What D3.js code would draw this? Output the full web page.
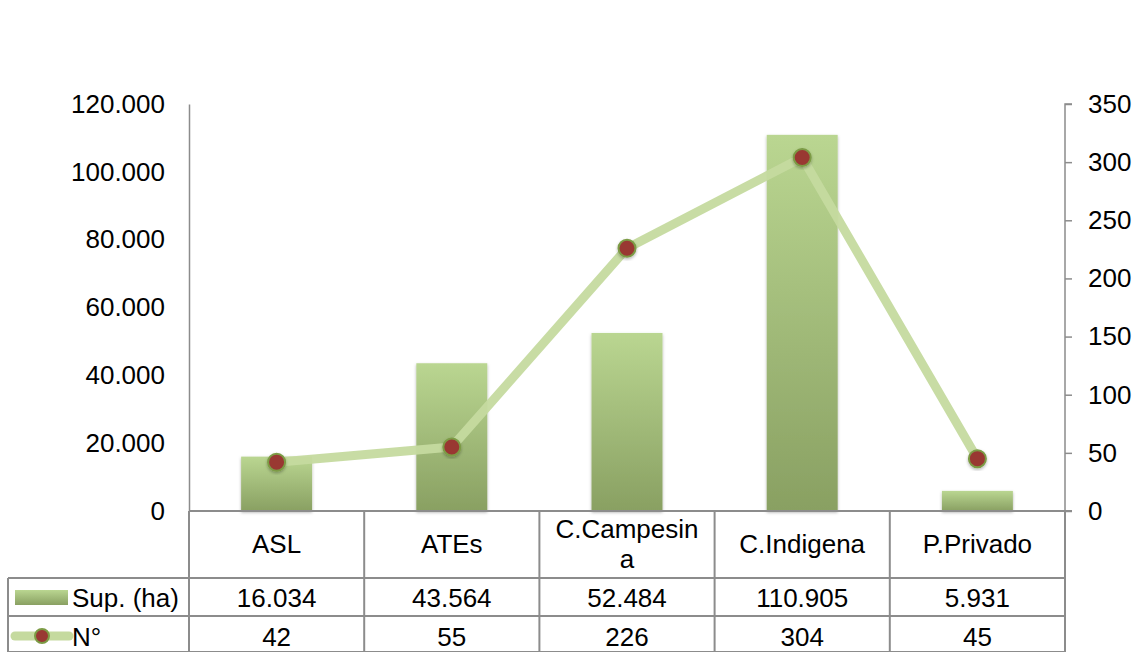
<!DOCTYPE html>
<html><head><meta charset="utf-8">
<script src="https://cdn.jsdelivr.net/npm/d3@7/dist/d3.min.js"></script>
<style>body{margin:0;background:#fff}svg{display:block}text{font-family:"Liberation Sans",Arial,sans-serif;fill:#000}</style>
</head><body><svg id="c" width="1136" height="652"></svg>
<script>
const categories = ["ASL","ATEs","C.Campesina","C.Indigena","P.Privado"];
const supValues = [16034,43564,52484,110905,5931];
const nValues = [42,55,226,304,45];
const supLabels = ["16.034","43.564","52.484","110.905","5.931"];
const nLabels = ["42","55","226","304","45"];
const leftTicks = [0,20000,40000,60000,80000,100000,120000];
const rightTicks = [0,50,100,150,200,250,300,350];
const seriesNames = ["Sup. (ha)","N°"];

const FS = "26px";
const svg = d3.select("#c");
const L=189, R=1065, T=104, B=511;
const x = d3.scaleBand().domain(categories).range([L,R]).paddingInner(0.595).paddingOuter(0.2975);
const yL = d3.scaleLinear().domain([0,120000]).range([B,T]);
const yR = d3.scaleLinear().domain([0,350]).range([B,T]);
const step = x.step();

const defs = svg.append("defs");
const g1 = defs.append("linearGradient").attr("id","barg").attr("x1",0).attr("y1",0).attr("x2",0).attr("y2",1);
g1.append("stop").attr("offset","0%").attr("stop-color","#bad691");
g1.append("stop").attr("offset","100%").attr("stop-color","#89a062");
const f = defs.append("filter").attr("id","sh").attr("x","-20%").attr("y","-20%").attr("width","140%").attr("height","140%");
f.append("feDropShadow").attr("dx",0).attr("dy",1.5).attr("stdDeviation",1.5).attr("flood-color","#000").attr("flood-opacity",0.3);

// bars
svg.append("g").selectAll("rect").data(categories).join("rect")
  .attr("x",d=>x(d)).attr("width",x.bandwidth())
  .attr("y",(d,i)=>yL(supValues[i])).attr("height",(d,i)=>B-yL(supValues[i]))
  .attr("fill","url(#barg)").attr("filter","url(#sh)");

// left axis
const la = svg.append("g").attr("transform",`translate(${L},0)`)
  .call(d3.axisLeft(yL).tickValues(leftTicks).tickSize(0).tickPadding(24)
    .tickFormat(d=>d===0?"0":(d/1000)+".000"));
la.selectAll("text").style("font-size",FS);
la.select(".domain").attr("stroke","#8c8c8c").attr("stroke-width",1.5);

// right axis
const ra = svg.append("g").attr("transform",`translate(${R},0)`)
  .call(d3.axisRight(yR).tickValues(rightTicks).tickSize(7).tickPadding(16));
ra.selectAll("text").style("font-size",FS);
ra.selectAll("line,.domain").attr("stroke","#8c8c8c").attr("stroke-width",1.5);
ra.select(".domain").attr("d",`M7,${T}H0V${B}H7`);

// line + markers
const line = d3.line().x((d,i)=>x(categories[i])+x.bandwidth()/2).y(d=>yR(d));
svg.append("path").datum(nValues).attr("d",line).attr("fill","none")
  .attr("stroke","#c5da9f").attr("stroke-width",9).attr("stroke-linejoin","round").attr("opacity",0.95);
svg.append("g").selectAll("circle").data(nValues).join("circle")
  .attr("cx",(d,i)=>x(categories[i])+x.bandwidth()/2).attr("cy",d=>yR(d)).attr("r",8.5)
  .attr("fill","#993833").attr("stroke","#7c9b45").attr("stroke-width",2).attr("filter","url(#sh)");

// table
const tg = svg.append("g").attr("stroke","#8c8c8c").attr("stroke-width",2).attr("fill","none");
const row1=B, row2=578, row3=616, row4=652, tL=8;
tg.append("line").attr("x1",L).attr("x2",R+7).attr("y1",row1).attr("y2",row1);
tg.append("line").attr("x1",tL).attr("x2",R).attr("y1",row2).attr("y2",row2);
tg.append("line").attr("x1",tL).attr("x2",R).attr("y1",row3).attr("y2",row3);
tg.append("line").attr("x1",tL).attr("x2",R).attr("y1",row4).attr("y2",row4);
tg.append("line").attr("x1",tL).attr("x2",tL).attr("y1",row2).attr("y2",row4);
const cols = categories.map(c=>x(c)-(step-x.bandwidth())/2).concat([R]);
tg.selectAll(".v").data(cols).join("line").attr("x1",d=>d).attr("x2",d=>d).attr("y1",row1).attr("y2",row4);

const cx = (c)=>x(c)+x.bandwidth()/2;
const catT = svg.append("g").selectAll("text").data(categories).join("text")
  .attr("x",d=>cx(d)).attr("text-anchor","middle").style("font-size",FS);
catT.each(function(d){
  const t=d3.select(this);
  if(d==="C.Campesina"){
    t.append("tspan").attr("x",cx(d)).attr("y",538).text("C.Campesin");
    t.append("tspan").attr("x",cx(d)).attr("y",568).text("a");
  } else t.append("tspan").attr("x",cx(d)).attr("y",553).text(d);
});
svg.append("g").selectAll("text").data(supLabels).join("text")
  .attr("x",(d,i)=>cx(categories[i])).attr("y",607).attr("text-anchor","middle").style("font-size",FS).text(d=>d);
svg.append("g").selectAll("text").data(nLabels).join("text")
  .attr("x",(d,i)=>cx(categories[i])).attr("y",646).attr("text-anchor","middle").style("font-size",FS).text(d=>d);

// legend keys
svg.append("rect").attr("x",15).attr("y",590).attr("width",53).attr("height",15).attr("fill","url(#barg)");
svg.append("text").attr("x",72).attr("y",607).style("font-size",FS).text(seriesNames[0]);
svg.append("line").attr("x1",15).attr("x2",69).attr("y1",636).attr("y2",636).attr("stroke","#c5da9f").attr("stroke-width",9).attr("stroke-linecap","round");
svg.append("circle").attr("cx",42).attr("cy",636).attr("r",7).attr("fill","#993833").attr("stroke","#7c9b45").attr("stroke-width",2);
svg.append("text").attr("x",72).attr("y",646).style("font-size",FS).text(seriesNames[1]);
</script></body></html>
